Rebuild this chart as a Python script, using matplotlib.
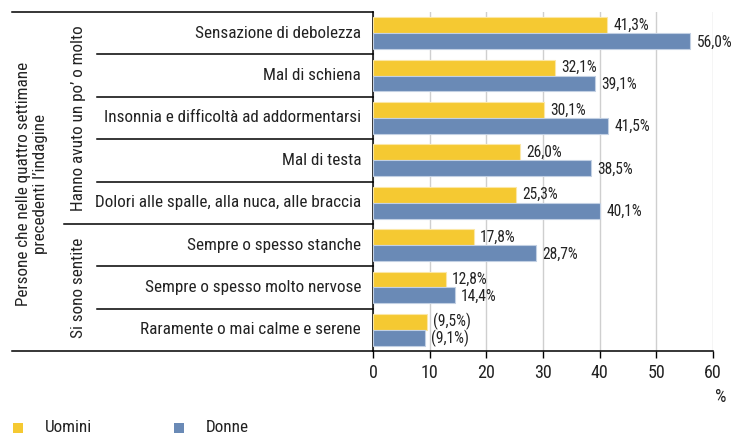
import matplotlib
matplotlib.use("Agg")
import matplotlib.pyplot as plt
from matplotlib.patches import Rectangle
from matplotlib.transforms import blended_transform_factory

plt.rcParams["font.family"] = ["Roboto Condensed", "DejaVu Sans"]

categories = [
    "Sensazione di debolezza",
    "Mal di schiena",
    "Insonnia e difficoltà ad addormentarsi",
    "Mal di testa",
    "Dolori alle spalle, alla nuca, alle braccia",
    "Sempre o spesso stanche",
    "Sempre o spesso molto nervose",
    "Raramente o mai calme e serene",
]
uomini = [41.3, 32.1, 30.1, 26.0, 25.3, 17.8, 12.8, 9.5]
donne = [56.0, 39.1, 41.5, 38.5, 40.1, 28.7, 14.4, 9.1]
uomini_lbl = ["41,3%", "32,1%", "30,1%", "26,0%", "25,3%", "17,8%", "12,8%", "(9,5%)"]
donne_lbl = ["56,0%", "39,1%", "41,5%", "38,5%", "40,1%", "28,7%", "14,4%", "(9,1%)"]
groups = ["Hanno avuto un po’ o molto", "Si sono sentite"]
group_sizes = [5, 3]
outer_label = "Persone che nelle quattro settimane\nprecedenti l’indagine"
series_names = ["Uomini", "Donne"]
xticks = [0, 10, 20, 30, 40, 50, 60]

YELLOW = "#F5C932"
BLUE = "#6A8AB6"
TXT = "#222222"
FS = 12.3

W, H = 731, 437
fig = plt.figure(figsize=(W / 100, H / 100), dpi=100)
x0, x1, ytop, ybot = 373, 713, 12, 351
ax = fig.add_axes([x0 / W, 1 - ybot / H, (x1 - x0) / W, (ybot - ytop) / H])

n = len(categories)
ys = list(range(n))
bh = 0.375
ax.barh([y - bh / 2 for y in ys], uomini, height=bh, color=YELLOW,
        edgecolor="#fbe7a6", linewidth=0.8, zorder=3)
ax.barh([y + bh / 2 for y in ys], donne, height=bh, color=BLUE,
        edgecolor="#c2d0e3", linewidth=0.8, zorder=3)

for y, v, s in zip(ys, uomini, uomini_lbl):
    ax.text(v + 1.1, y - bh / 2, s, ha="left", va="center", fontsize=11.2, color=TXT)
for y, v, s in zip(ys, donne, donne_lbl):
    ax.text(v + 1.1, y + bh / 2 + 0.02, s, ha="left", va="center", fontsize=11.2, color=TXT)

ax.set_xlim(0, 60)
ax.set_ylim(n - 0.5, -0.5)
ax.set_xticks(xticks)
ax.set_xticklabels([str(t) for t in xticks], fontsize=FS + 0.7, color=TXT)
ax.set_yticks([])
ax.tick_params(axis="x", direction="out", length=5, width=1, color="black", pad=4)
ax.xaxis.grid(True, color="#cfcfcf", linewidth=1)
ax.set_axisbelow(True)
for sp in ["top", "right"]:
    ax.spines[sp].set_visible(False)
ax.spines["left"].set_linewidth(1.1)
ax.spines["bottom"].set_linewidth(1.1)

# left-side table lines and labels
tr = blended_transform_factory(ax.transAxes, ax.transData)
def px(x):
    return (x - x0) / (x1 - x0)

for y, c in zip(ys, categories):
    ax.text(px(361), y, c, transform=tr, ha="right", va="center", fontsize=FS, color=TXT)

ax.plot([px(12), 0], [-0.5, -0.5], transform=tr, color="black", lw=1.1, clip_on=False)
ax.plot([px(12), 0], [n - 0.5, n - 0.5], transform=tr, color="black", lw=1.1, clip_on=False)
bounds = [sum(group_sizes[:k]) for k in range(len(group_sizes) + 1)]
for i in range(1, n):
    start = px(64) if i in bounds else px(97)
    ax.plot([start, 0], [i - 0.5, i - 0.5], transform=tr, color="black", lw=1.1, clip_on=False)

for g, a, b in zip(groups, bounds[:-1], bounds[1:]):
    ax.text(px(78), (a + b - 1) / 2, g, transform=tr, rotation=90, ha="center",
            va="center", fontsize=FS, color=TXT)
ax.text(px(32), (n - 1) / 2 + 0.05, outer_label, transform=tr, rotation=90, ha="center",
        va="center", fontsize=FS, color=TXT, linespacing=1.15)

ax.text(px(721), 1 - 397 / H, "%", transform=blended_transform_factory(ax.transAxes, fig.transFigure),
        ha="center", va="center", fontsize=FS + 0.7, color=TXT)

# legend
leg = [(13, 45, YELLOW), (174, 206, BLUE)]
for (sx, tx, col), name in zip(leg, series_names):
    fig.add_artist(Rectangle((sx / W, 1 - 433 / H), 10 / W, 10 / H, transform=fig.transFigure,
                             facecolor=col, edgecolor="none"))
    fig.text(tx / W, 1 - 428 / H, name, ha="left", va="center", fontsize=FS, color=TXT)

fig.savefig("out.png", dpi=100, facecolor="white")
